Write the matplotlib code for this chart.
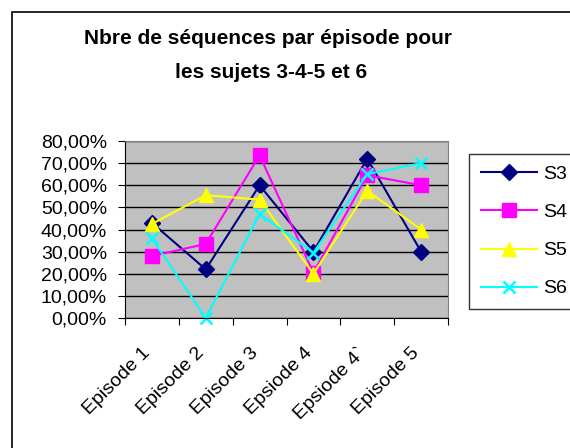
import matplotlib.pyplot as plt
import matplotlib.transforms as mtransforms
from matplotlib.ticker import FuncFormatter, FixedLocator

plt.rcParams['font.family'] = ['Liberation Sans', 'DejaVu Sans']

# données (en %)
episodes = ['Episode 1', 'Episode 2', 'Episode 3', 'Epsiode 4', 'Epsiode 4`', 'Episode 5']
s3 = [43, 22, 60, 30, 72, 30]
s4 = [28, 33.5, 73.5, 20.5, 64.5, 60]
s5 = [42.5, 55.5, 53.5, 20, 57.5, 40]
s6 = [36, 0, 47, 29.5, 65, 70]

series = [('S3', s3, '#000080', 'D', 8),
          ('S4', s4, '#FF00FF', 's', 9.5),
          ('S5', s5, '#FFFF00', '^', 10.5),
          ('S6', s6, '#00FFFF', 'x', 9)]

fig = plt.figure(figsize=(5.7, 4.48), dpi=100)
# cadre du graphique (dépasse à droite et en bas)
fig.patches.append(plt.Rectangle((12 / 570, -0.1), 1.0, 1 - 12 / 448 + 0.1,
                                 transform=fig.transFigure, fill=False,
                                 edgecolor='black', linewidth=1.2))

ax = fig.add_axes([125 / 570, 1 - 318 / 448, 323 / 570, 177 / 448])
ax.set_facecolor('#C0C0C0')

x = list(range(len(episodes)))
for name, vals, col, mk, ms in series:
    ax.plot(x, vals, color=col, marker=mk, markersize=ms, linewidth=1.5,
            markeredgewidth=1.8 if mk == 'x' else 1, label=name, clip_on=False)

ax.set_xlim(-0.5, len(episodes) - 0.5)
ax.set_ylim(0, 80)
ax.set_yticks(range(0, 81, 10))
ax.yaxis.set_major_formatter(FuncFormatter(lambda v, p: f'{v:.2f}%'.replace('.', ',')))
ax.yaxis.grid(True, color='black', linewidth=1)
ax.set_axisbelow(True)

ax.xaxis.set_major_locator(FixedLocator([i - 0.5 for i in range(len(episodes) + 1)]))
ax.set_xticklabels([])
ax.set_xticks(x, minor=True)
ax.set_xticklabels(episodes, minor=True, rotation=45, ha='right', va='center',
                   rotation_mode='anchor')
ax.tick_params(axis='x', which='minor', length=0, pad=23, labelsize=14)
ax.tick_params(axis='x', which='major', length=5, direction='out')
ax.tick_params(axis='y', length=5, direction='out', labelsize=14, pad=8)
shift = mtransforms.ScaledTranslation(-4 / 100, 0, fig.dpi_scale_trans)
for lab in ax.get_xticklabels(minor=True):
    lab.set_transform(lab.get_transform() + shift)

for side in ['top', 'right']:
    ax.spines[side].set_color('#808080')
ax.spines['left'].set_color('black')
ax.spines['bottom'].set_color('black')

fig.text(268 / 570, 1 - 38 / 448, 'Nbre de séquences par épisode pour',
         ha='center', va='center', fontsize=15, fontweight='bold')
fig.text(271 / 570, 1 - 72 / 448, 'les sujets 3-4-5 et 6',
         ha='center', va='center', fontsize=15, fontweight='bold')

leg = fig.legend(loc='upper left', bbox_to_anchor=(469 / 570, 1 - 154 / 448),
                 fontsize=14, frameon=True, fancybox=False, edgecolor='black',
                 handlelength=2.9, handletextpad=0.3, labelspacing=1.05,
                 borderpad=0.6, borderaxespad=0)
leg.get_frame().set_linewidth(1)

fig.savefig('out.png', dpi=100)
